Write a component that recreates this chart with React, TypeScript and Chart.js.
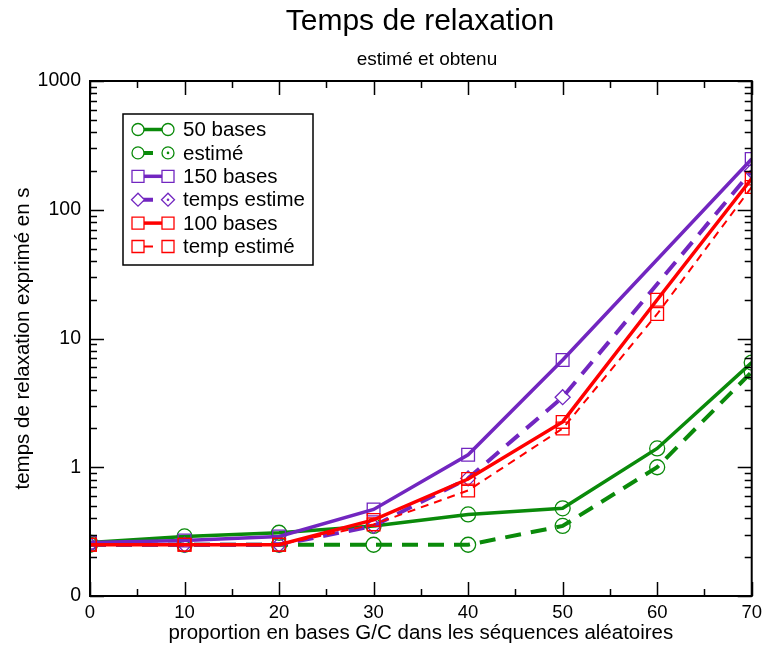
import React, { useEffect, useRef } from "react";
import { Chart, registerables } from "chart.js";

Chart.register(...registerables);

// ---------- data ----------
const gcProportion = [0, 10, 20, 30, 40, 50, 60, 70];
const bases50 = [0.26, 0.29, 0.31, 0.35, 0.43, 0.48, 1.4, 6.5];
const estime50 = [0.25, 0.25, 0.25, 0.25, 0.25, 0.35, 1.0, 5.5];
const bases150 = [0.26, 0.27, 0.29, 0.47, 1.25, 6.8, null, 248];
const estime150 = [0.25, 0.25, 0.25, 0.35, 0.82, 3.5, null, 200];
const bases100 = [0.25, 0.25, 0.25, 0.39, 0.81, 2.25, 20, 175];
const estime100 = [0.25, 0.25, 0.25, 0.36, 0.66, 2.0, 15.5, 150];

const seriesLabels = ["50 bases", "estimé", "150 bases", "temps estime", "100 bases", "temp estimé"];
const xTickLabels = ["0", "10", "20", "30", "40", "50", "60", "70"];
const xTickValues = [0, 10, 20, 30, 40, 50, 60, 70];
const yTickValues = [0.1, 1, 10, 100, 1000];
const yTickLabels = ["0", "1", "10", "100", "1000"];

const titleText = "Temps de relaxation";
const subtitleText = "estimé et obtenu";
const xTitleText = "proportion en bases G/C dans les séquences aléatoires";
const yTitleText = "temps de relaxation exprimé en s";

// ---------- styles ----------
const GREEN = "#0a8a0a";
const PURPLE = "#7226c0";
const RED = "#ff0000";
const FONT = "'Liberation Sans', Arial, sans-serif";

type Style = {
  color: string;
  width: number;
  dash: number[];
  point: string;
  radius: number;
  legendDot: boolean;
};

const styles: Style[] = [
  { color: GREEN, width: 3.5, dash: [], point: "circle", radius: 7.5, legendDot: false },
  { color: GREEN, width: 4, dash: [16, 10], point: "circle", radius: 7.5, legendDot: true },
  { color: PURPLE, width: 3.5, dash: [], point: "rect", radius: 9, legendDot: false },
  { color: PURPLE, width: 4, dash: [16, 10], point: "rectRot", radius: 7.5, legendDot: true },
  { color: RED, width: 3.5, dash: [], point: "rect", radius: 9, legendDot: false },
  { color: RED, width: 2, dash: [8, 6], point: "rect", radius: 9, legendDot: false },
];

const seriesValues = [bases50, estime50, bases150, estime150, bases100, estime100];

function toPoints(vals: (number | null)[]) {
  const pts: { x: number; y: number }[] = [];
  vals.forEach((v, i) => {
    if (v !== null) pts.push({ x: gcProportion[i], y: v });
  });
  return pts;
}

function drawMarker(ctx: CanvasRenderingContext2D, kind: string, x: number, y: number, r: number, dot: boolean) {
  ctx.beginPath();
  if (kind === "circle") {
    ctx.arc(x, y, r, 0, Math.PI * 2);
  } else if (kind === "rect") {
    ctx.rect(x - r, y - r, 2 * r, 2 * r);
  } else {
    ctx.moveTo(x - r, y);
    ctx.lineTo(x, y - r);
    ctx.lineTo(x + r, y);
    ctx.lineTo(x, y + r);
    ctx.closePath();
  }
  ctx.fillStyle = "#ffffff";
  ctx.fill();
  ctx.stroke();
  if (dot) {
    ctx.beginPath();
    ctx.arc(x, y, 1.3, 0, Math.PI * 2);
    ctx.fillStyle = ctx.strokeStyle as string;
    ctx.fill();
  }
}

const decorPlugin = {
  id: "decor",
  afterDatasetsDraw(chart: any) {
    const ctx: CanvasRenderingContext2D = chart.ctx;
    const { left, right, top, bottom } = chart.chartArea;
    const xs = chart.scales.x;
    const ys = chart.scales.y;
    ctx.save();
    // frame
    ctx.strokeStyle = "#000";
    ctx.lineWidth = 2;
    ctx.setLineDash([]);
    ctx.strokeRect(left, top, right - left, bottom - top);
    // y ticks (log)
    ctx.lineWidth = 1.5;
    for (let d = -1; d <= 3; d++) {
      for (let m = 1; m <= 9; m++) {
        const v = m * Math.pow(10, d);
        if (v < 0.1 - 1e-9 || v > 1000 + 1e-6) continue;
        const p = Math.round(ys.getPixelForValue(v)) + 0.5;
        const len = m === 1 ? 14 : 7;
        ctx.beginPath();
        ctx.moveTo(left, p);
        ctx.lineTo(left + len, p);
        ctx.moveTo(right, p);
        ctx.lineTo(right - len, p);
        ctx.stroke();
      }
    }
    // x ticks
    for (let v = 0; v <= 70; v += 5) {
      const p = Math.round(xs.getPixelForValue(v)) + 0.5;
      const len = v % 10 === 0 ? 14 : 7;
      ctx.beginPath();
      ctx.moveTo(p, bottom);
      ctx.lineTo(p, bottom - len);
      ctx.moveTo(p, top);
      ctx.lineTo(p, top + len);
      ctx.stroke();
    }
    // titles
    ctx.fillStyle = "#000";
    ctx.textAlign = "center";
    ctx.textBaseline = "alphabetic";
    ctx.font = `30px ${FONT}`;
    ctx.fillText(titleText, 420, 30);
    ctx.font = `19px ${FONT}`;
    ctx.fillText(subtitleText, 427, 65);
    ctx.font = `20.5px ${FONT}`;
    ctx.fillText(xTitleText, (left + right) / 2, 639);
    ctx.save();
    ctx.translate(29, (top + bottom) / 2);
    ctx.rotate(-Math.PI / 2);
    ctx.font = `20.5px ${FONT}`;
    ctx.fillText(yTitleText, 0, 0);
    ctx.restore();

    // legend
    const bx = 123, by = 114, bw = 190, bh = 151;
    ctx.fillStyle = "#fff";
    ctx.fillRect(bx, by, bw, bh);
    ctx.strokeStyle = "#000";
    ctx.lineWidth = 1.5;
    ctx.strokeRect(bx, by, bw, bh);
    const rowY0 = 129.5, rowStep = 23.4;
    seriesLabels.forEach((lab, i) => {
      const st = styles[i];
      const y = rowY0 + i * rowStep;
      const x1 = 138, x2 = 168;
      ctx.strokeStyle = st.color;
      ctx.lineWidth = st.width;
      ctx.setLineDash(st.dash.length ? [15, 12] : []);
      ctx.beginPath();
      ctx.moveTo(x1, y);
      ctx.lineTo(x2, y);
      ctx.stroke();
      ctx.setLineDash([]);
      ctx.lineWidth = 1.3;
      ctx.strokeStyle = st.color;
      const r = st.point === "rectRot" ? 6.5 : 6;
      drawMarker(ctx, st.point, x1, y, r, false);
      drawMarker(ctx, st.point, x2, y, r, st.legendDot);
      ctx.fillStyle = "#000";
      ctx.textAlign = "left";
      ctx.textBaseline = "middle";
      ctx.font = `20.5px ${FONT}`;
      ctx.fillText(lab, 183, y + 1);
    });
    ctx.restore();
  },
};

export default function App() {
  const canvasRef = useRef<HTMLCanvasElement | null>(null);

  useEffect(() => {
    if (!canvasRef.current) return;
    const n = seriesLabels.length;
    const datasets = seriesLabels.map((lab, i) => {
      const st = styles[i];
      return {
        label: lab,
        data: toPoints(seriesValues[i]),
        borderColor: st.color,
        backgroundColor: "rgba(0,0,0,0)",
        borderWidth: st.width,
        borderDash: st.dash,
        pointStyle: st.point,
        pointRadius: st.radius,
        pointBorderWidth: 1.3,
        pointBorderColor: st.color,
        pointBackgroundColor: "rgba(0,0,0,0)",
        tension: 0,
        fill: false,
        order: n - 1 - i,
      };
    });

    const chart = new Chart(canvasRef.current, {
      type: "line",
      data: { datasets } as any,
      plugins: [decorPlugin],
      options: {
        animation: false,
        responsive: true,
        maintainAspectRatio: false,
        layout: { padding: { top: 81, right: 11, left: 0, bottom: 0 } },
        plugins: {
          legend: { display: false },
          tooltip: { enabled: false },
          title: { display: false },
        },
        scales: {
          x: {
            type: "linear",
            min: 0,
            max: 70,
            afterFit: (s: any) => {
              s.height = 53;
            },
            afterBuildTicks: (s: any) => {
              s.ticks = xTickValues.map((v) => ({ value: v }));
            },
            grid: { display: false, drawTicks: false },
            border: { display: false },
            ticks: {
              padding: 6,
              color: "#000",
              maxRotation: 0,
              autoSkip: false,
              font: { family: FONT, size: 18.5 },
              callback: (v: any) => {
                const idx = xTickValues.indexOf(Number(v));
                return idx >= 0 ? xTickLabels[idx] : "";
              },
            },
          },
          y: {
            type: "logarithmic",
            min: 0.1,
            max: 1000,
            afterFit: (s: any) => {
              s.width = 90;
            },
            afterBuildTicks: (s: any) => {
              s.ticks = yTickValues.map((v) => ({ value: v }));
            },
            grid: { display: false, drawTicks: false },
            border: { display: false },
            ticks: {
              padding: 9,
              color: "#000",
              autoSkip: false,
              font: { family: FONT, size: 19.5 },
              callback: (v: any) => {
                const idx = yTickValues.findIndex((t) => Math.abs(t - Number(v)) < 1e-9 * Math.max(1, t));
                return idx >= 0 ? yTickLabels[idx] : "";
              },
            },
          },
        },
      } as any,
    });
    return () => chart.destroy();
  }, []);

  return (
    <div style={{ position: "absolute", left: 0, top: 0, width: 768, height: 649, background: "#fff" }}>
      <canvas ref={canvasRef} />
    </div>
  );
}
